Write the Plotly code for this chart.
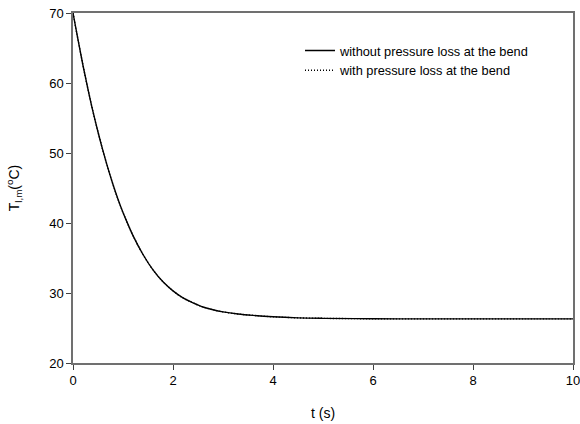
import plotly.graph_objects as go

# time (s) and mean liquid temperature (deg C)
t = [0, 0.1, 0.2, 0.3, 0.4, 0.5, 0.6, 0.7, 0.8, 0.9, 1.0, 1.1, 1.2, 1.4, 1.6,
     1.8, 2.0, 2.2, 2.4, 2.6, 2.8, 3.0, 3.3, 3.6, 4.0, 4.5, 5.0, 6.0, 7.0, 8.0,
     9.0, 10.0]
T_without = [70.0, 66.2, 62.5, 59.1, 55.9, 53.0, 50.3, 47.8, 45.5, 43.4, 41.5,
             39.8, 38.2, 35.5, 33.3, 31.6, 30.3, 29.3, 28.6, 28.0, 27.6, 27.3,
             27.0, 26.8, 26.6, 26.45, 26.38, 26.32, 26.3, 26.3, 26.3, 26.3]
T_with = [70.0, 66.2, 62.5, 59.1, 55.9, 53.0, 50.3, 47.8, 45.5, 43.4, 41.5,
          39.8, 38.2, 35.5, 33.3, 31.6, 30.3, 29.3, 28.6, 28.0, 27.6, 27.3,
          27.0, 26.8, 26.6, 26.45, 26.38, 26.32, 26.3, 26.3, 26.3, 26.3]

names = ['without pressure loss at the bend', 'with pressure loss at the bend']

fig = go.Figure()
fig.add_trace(go.Scatter(x=t, y=T_without, mode='lines', name=names[0],
                         line=dict(color='black', width=1.4, shape='spline')))
fig.add_trace(go.Scatter(x=t, y=T_with, mode='lines', name=names[1],
                         line=dict(color='black', width=1.4, dash='1px,2px', shape='spline')))

axis_style = dict(showline=True, linecolor='#707070', linewidth=1.5, mirror=True,
                  ticks='outside', ticklen=5, tickcolor='#404040', tickwidth=1,
                  showgrid=False, zeroline=False, automargin=False,
                  ticklabeloverflow='allow',
                  tickfont=dict(family='Liberation Sans, Arial', size=13, color='black'))

fig.update_layout(
    width=580, height=424,
    margin=dict(l=73, r=7, t=13, b=61),
    paper_bgcolor='white', plot_bgcolor='white',
    font=dict(family='Liberation Sans, Arial', size=13, color='black'),
    xaxis=dict(range=[0, 10], dtick=2,
               title=dict(text='t (s)', font=dict(size=14), standoff=21),
               **axis_style),
    yaxis=dict(range=[20, 70], dtick=10,
               title=dict(text='T<sub>l,m</sub>(<sup>o</sup>C)', font=dict(size=14), standoff=26),
               **axis_style),
    legend=dict(x=0.454, y=0.935, xanchor='left', yanchor='top',
                bgcolor='rgba(0,0,0,0)', font=dict(size=12.8),
                tracegroupgap=0, itemwidth=30),
)

# drop the default 8px body margin so the figure fills the window
fig.write_html('out.html', config={'displayModeBar': False},
               post_script="document.body.style.margin = '0px';")
